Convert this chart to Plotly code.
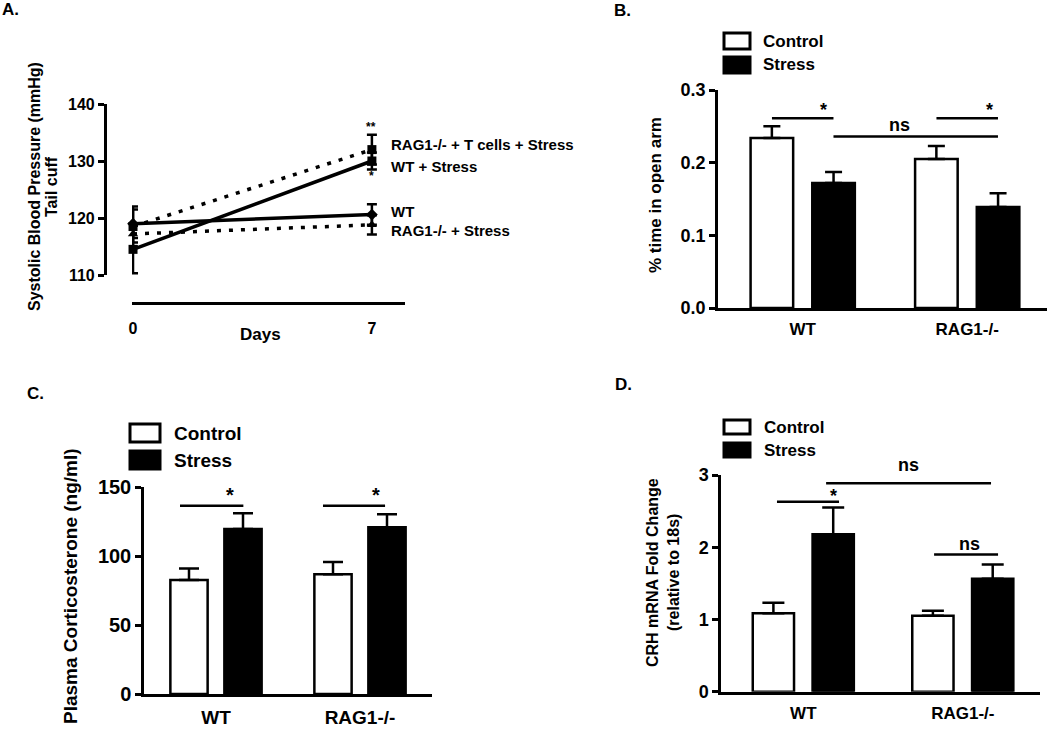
import plotly.graph_objects as go

W, H = 1050, 729
FONT = "Liberation Sans, Arial, sans-serif"

def X(px):
    return px / W

def Y(py):
    return 1 - py / H

# ---------------- Data ----------------
# Panel A: systolic blood pressure (tail cuff)
days = [0, 7]
wt = [119.0, 120.6]
wt_err = [2.5, 1.8]
wt_stress = [114.5, 130.0]
wt_stress_err = [4.2, 1.5]
rag_t_stress = [118.5, 132.0]
rag_t_stress_err = [3.5, 2.6]
rag_stress = [117.2, 118.8]
rag_stress_err = [1.5, 1.7]

# Panels B-D: groups
groups = ["WT", "RAG1-/-"]
gx = [0, 1]

# Panel B: % time in open arm
b_control = [0.234, 0.205]
b_control_err = [0.016, 0.018]
b_stress = [0.172, 0.139]
b_stress_err = [0.015, 0.019]

# Panel C: plasma corticosterone (ng/ml)
c_control = [82.6, 86.7]
c_control_err = [8.4, 8.9]
c_stress = [119.6, 120.8]
c_stress_err = [11.4, 9.4]

# Panel D: CRH mRNA fold change
d_control = [1.085, 1.05]
d_control_err = [0.145, 0.07]
d_stress = [2.18, 1.565]
d_stress_err = [0.37, 0.195]

fig = go.Figure()

# ---------------- Panel A ----------------
def line_trace(y, err, symbol, dash):
    return go.Scatter(
        x=days, y=y, mode="lines+markers", xaxis="x", yaxis="y",
        line=dict(color="black", width=3.5, dash=dash),
        marker=dict(color="black", size=9, symbol=symbol),
        error_y=dict(type="data", array=err, color="black", thickness=2.5, width=5),
        cliponaxis=False, showlegend=False,
    )

fig.add_trace(line_trace(rag_stress, rag_stress_err, "triangle-up", "4px,8px"))
fig.add_trace(line_trace(rag_t_stress, rag_t_stress_err, "square", "4px,8px"))
fig.add_trace(line_trace(wt, wt_err, "diamond", "solid"))
fig.add_trace(line_trace(wt_stress, wt_stress_err, "square", "solid"))

# ---------------- Bar panels ----------------
def bars(ctrl, ctrl_err, strs, strs_err, xa, ya, capw):
    for vals, err, col in [(ctrl, ctrl_err, "white"), (strs, strs_err, "black")]:
        fig.add_trace(go.Bar(
            x=gx, y=vals, xaxis=xa, yaxis=ya,
            marker=dict(color=col, line=dict(color="black", width=2.5)),
            error_y=dict(type="data", array=err, arrayminus=[0] * len(err), symmetric=False,
                         color="black", thickness=2.5, width=capw),
            showlegend=False,
        ))

bars(b_control, b_control_err, b_stress, b_stress_err, "x2", "y2", 8.5)
bars(c_control, c_control_err, c_stress, c_stress_err, "x3", "y3", 10)
bars(d_control, d_control_err, d_stress, d_stress_err, "x4", "y4", 11)

axis_common = dict(showgrid=False, zeroline=False, showline=True, linecolor="black",
                   linewidth=2.5, tickcolor="black", tickwidth=2.5, fixedrange=True,
                   automargin=False)

def tfont(size):
    return dict(family=FONT, size=size, color="black", weight="bold")

layout = dict(
    width=W, height=H, margin=dict(l=0, r=0, t=0, b=0, pad=0, autoexpand=False),
    paper_bgcolor="white", plot_bgcolor="white", showlegend=False,
    barmode="group", bargap=0.25, bargroupgap=0.31,
    # Panel A
    xaxis=dict(domain=[X(132), X(405)], range=[-0.03, 7.97], anchor="free", position=Y(303),
               tickvals=days, ticktext=["0", "7"], ticks="", ticklabelstandoff=10,
               tickfont=tfont(16), **axis_common),
    yaxis=dict(domain=[Y(275), Y(104)], range=[110, 140], anchor="free", position=X(104.7),
               tickvals=[110, 120, 130, 140], ticks="outside", ticklen=6,
               tickfont=tfont(16), **axis_common),
    # Panel B
    xaxis2=dict(domain=[X(718), X(1047)], range=[-0.515, 1.485], anchor="y2",
                tickvals=gx, ticktext=groups, ticks="", ticklabelstandoff=4,
                tickfont=tfont(17), **axis_common),
    yaxis2=dict(domain=[Y(308), Y(90)], range=[0, 0.3], anchor="x2",
                tickvals=[0, 0.1, 0.2, 0.3], tickformat=".1f", ticks="outside", ticklen=6,
                tickfont=tfont(18), **axis_common),
    # Panel C
    xaxis3=dict(domain=[X(144), X(432)], range=[-0.5, 1.5], anchor="y3",
                tickvals=gx, ticktext=groups, ticks="", ticklabelstandoff=4,
                tickfont=tfont(19), **axis_common),
    yaxis3=dict(domain=[Y(694), Y(487)], range=[0, 150], anchor="x3",
                tickvals=[0, 50, 100, 150], ticks="outside", ticklen=6,
                tickfont=tfont(20), **axis_common),
    # Panel D
    xaxis4=dict(domain=[X(721), X(1040)], range=[-0.516, 1.484], anchor="y4",
                tickvals=gx, ticktext=groups, ticks="", ticklabelstandoff=4,
                tickfont=tfont(17), **axis_common),
    yaxis4=dict(domain=[Y(691.7), Y(475)], range=[0, 3], anchor="x4",
                tickvals=[0, 1, 2, 3], ticks="outside", ticklen=6,
                tickfont=tfont(18), **axis_common),
)
fig.update_layout(**layout)

shapes = []
ann = []

def text(x, y, s, size, xref="paper", yref="paper", angle=0, xanchor="center"):
    ann.append(dict(x=x, y=y, xref=xref, yref=yref, text=s, showarrow=False,
                    textangle=angle, xanchor=xanchor, yanchor="middle",
                    font=dict(family=FONT, size=size, color="black", weight="bold")))

# Panel labels
text(X(10), Y(9), "A.", 17)
text(X(622), Y(10), "B.", 17)
text(X(35), Y(393), "C.", 17)
text(X(623), Y(384), "D.", 17)

# Panel A texts
text(X(34), Y(187), "Systolic Blood Pressure (mmHg)", 16, angle=-90)
text(X(51), Y(187), "Tail cuff", 16, angle=-90)
text(X(260), Y(334), "Days", 17)
text(X(389), Y(145), "RAG1-/- + T cells + Stress", 15, xanchor="left")
text(X(389), Y(166), "WT + Stress", 15, xanchor="left")
text(X(389), Y(212), "WT", 15, xanchor="left")
text(X(389), Y(230), "RAG1-/- + Stress", 15, xanchor="left")
text(X(371), Y(127), "**", 12)
text(X(371), Y(176), "*", 12)

# Legends (B, C, D)
def legend(x0, x1, yc, yt, xt, size, bw):
    (c0, c1), (s0, s1) = yc, yt
    shapes.append(dict(type="rect", xref="paper", yref="paper", x0=X(x0), x1=X(x1), y0=Y(c1), y1=Y(c0),
                       fillcolor="white", line=dict(color="black", width=bw)))
    shapes.append(dict(type="rect", xref="paper", yref="paper", x0=X(x0), x1=X(x1), y0=Y(s1), y1=Y(s0),
                       fillcolor="black", line=dict(color="black", width=bw)))
    text(X(xt), Y((c0 + c1) / 2), "Control", size, xanchor="left")
    text(X(xt), Y((s0 + s1) / 2), "Stress", size, xanchor="left")

legend(724, 750, (33, 49), (57, 73), 761, 17, 3)
legend(130, 160, (424, 442), (451, 469), 172, 19, 3)
legend(724, 750, (420, 434), (443, 457), 762, 17, 3)

# Axis titles B, C, D
text(X(655), Y(195), "% time in open arm", 17, angle=-90)
text(X(70), Y(586), "Plasma Corticosterone (ng/ml)", 19, angle=-90)
text(X(652), Y(573), "CRH mRNA Fold Change", 16, angle=-90)
text(X(673), Y(573), "(relative to 18s)", 16, angle=-90)

# Significance bars
def sig(xa, ya, x0, x1, y):
    shapes.append(dict(type="line", xref=xa, yref=ya, x0=x0, x1=x1, y0=y, y1=y,
                       line=dict(color="black", width=2.5)))

# B
sig("x2", "y2", -0.187, 0.187, 0.261)
text(0.129, 0.272, "*", 18, xref="x2", yref="y2")
sig("x2", "y2", 0.187, 1.187, 0.236)
text(0.591, 0.252, "ns", 18, xref="x2", yref="y2")
sig("x2", "y2", 0.813, 1.187, 0.261)
text(1.138, 0.272, "*", 18, xref="x2", yref="y2")
# C
sig("x3", "y3", -0.25, 0.19, 136.4)
text(0.097, 144.0, "*", 20, xref="x3", yref="y3")
sig("x3", "y3", 0.743, 1.174, 136.4)
text(1.11, 144.0, "*", 20, xref="x3", yref="y3")
# D
sig("x4", "y4", -0.165, 0.224, 2.63)
text(0.187, 2.715, "*", 18, xref="x4", yref="y4")
sig("x4", "y4", 0.143, 1.177, 2.885)
text(X(908), Y(465), "ns", 18)
sig("x4", "y4", 0.82, 1.221, 1.90)
text(1.039, 2.04, "ns", 18, xref="x4", yref="y4")

fig.update_layout(shapes=shapes, annotations=ann)
fig.write_html("out.html", config={"displayModeBar": False},
               post_script="document.body.style.margin='0px';")
